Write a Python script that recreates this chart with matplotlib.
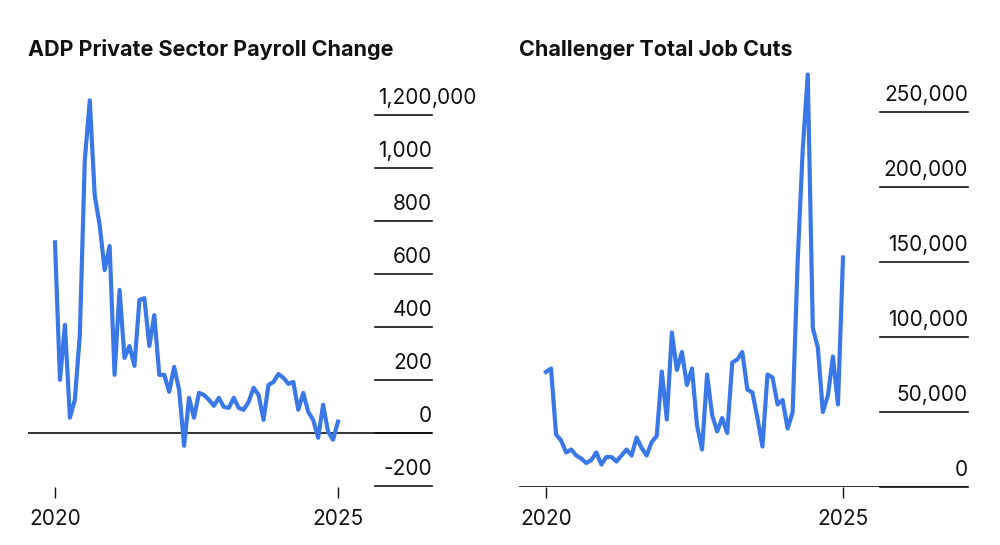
import matplotlib
matplotlib.use("Agg")
import matplotlib.pyplot as plt
import numpy as np

plt.rcParams['font.family'] = ['Inter', 'DejaVu Sans']

adp_title = "ADP Private Sector Payroll Change"
adp_values = [720, 200, 408, 57, 125, 370, 1030, 1257, 898, 785, 615, 706, 219, 540, 283, 328, 253,
              502, 509, 328, 445, 219, 219, 155, 249, 162, -49, 132, 57, 151, 143, 125, 102, 132, 98,
              94, 132, 94, 87, 117, 170, 143, 49, 181, 192, 222, 208, 185, 192, 87, 151, 79, 49, -19,
              106, 4, -26, 42]
adp_ticks = [-200, 0, 200, 400, 600, 800, 1000, 1200]
adp_labels = ["-200", "0", "200", "400", "600", "800", "1,000", "1,200"]
adp_top_suffix = ",000"

cut_title = "Challenger Total Job Cuts"
cut_values = [76.7, 79, 35, 31, 23, 25, 21, 19, 16, 18, 23, 15, 20, 20, 17, 21, 25, 21, 33, 26, 21,
              30, 34, 77, 45, 103, 78, 90, 68, 79, 41, 25, 75, 48, 37, 46, 36, 83, 85, 90, 65, 63,
              46, 27, 75, 73, 55, 58, 39, 50, 151, 225, 275, 106, 93, 50, 61, 87, 55, 153]
cut_ticks = [0, 50, 100, 150, 200, 250]
cut_labels = ["0", "50,000", "100,000", "150,000", "200,000", "250,000"]

year_ticks = [2020, 2025]
blue = "#3a78e8"
dark = "#111111"
FS = 15

fig = plt.figure(figsize=(10, 5.45), dpi=100)
W, H = 1000, 545

def make_ax(x0, x1, y0, y1):
    return fig.add_axes([x0 / W, 1 - y1 / H, (x1 - x0) / W, (y1 - y0) / H])

def style(ax, ticks, labels, title, tx, gstart):
    for s in ax.spines.values():
        s.set_visible(False)
    ax.set_yticks([])
    ax.set_xticks(year_ticks)
    ax.set_xticklabels([str(y) for y in year_ticks], fontsize=FS, color=dark)
    ax.tick_params(axis='x', length=8, width=1, color=dark, pad=8)
    for t, l in zip(ticks, labels):
        ax.plot([gstart, 1.0], [t, t], transform=ax.get_yaxis_transform(), color=dark, lw=1.2,
                clip_on=False)
        ax.annotate(l, xy=(1.0, t), xycoords=ax.get_yaxis_transform(), xytext=(0, 5),
                    textcoords='offset points', ha='right', va='bottom', fontsize=FS, color=dark)
    ax.axhline(0, color=dark, lw=1.2, zorder=1)
    fig.text(tx / W, 1 - 50 / H, title, fontsize=15.5, fontweight='bold', color=dark, va='center')

# left
ax1 = make_ax(28, 432, 81, 487)
n = len(adp_values)
x1 = 2020 + 5 * np.arange(n) / (n - 1)
ax1.plot(x1, adp_values, color=blue, lw=3, zorder=3, solid_joinstyle='round')
ax1.set_xlim(2020 - 27 / 56.6, 2025 + 94 / 56.6)
ax1.set_ylim(-205, 1330)
style(ax1, adp_ticks, adp_labels, adp_title, 28, 0.858)
ax1.annotate(adp_top_suffix, xy=(1.0, adp_ticks[-1]), xycoords=ax1.get_yaxis_transform(),
             xytext=(0, 5), textcoords='offset points', ha='left', va='bottom', fontsize=FS,
             color=dark, annotation_clip=False)

# right
ax2 = make_ax(519, 968, 67, 487)
m = len(cut_values)
x2 = 2020 + 5 * np.arange(m) / (m - 1)
ax2.plot(x2, cut_values, color=blue, lw=3, zorder=3, solid_joinstyle='round')
ax2.set_xlim(2020 - 27 / 59.4, 2025 + 125 / 59.4)
ax2.set_ylim(0, 280)
style(ax2, cut_ticks, cut_labels, cut_title, 519, 0.804)

fig.savefig("out.png", dpi=100)
